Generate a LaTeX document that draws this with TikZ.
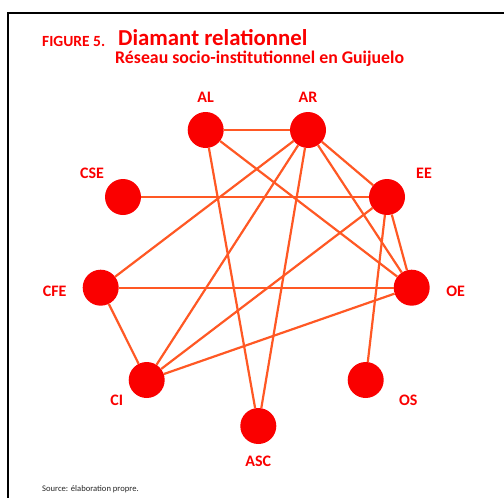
\documentclass[tikz,border=0pt]{standalone}
\usepackage{fontspec}
\setmainfont{Carlito}
\usetikzlibrary{positioning}
\definecolor{dotred}{RGB}{250,0,0}
\definecolor{linkorange}{RGB}{255,88,36}

\begin{document}
\begin{tikzpicture}[x=1pt, y=-1pt,
        actor/.style={circle, fill=dotred, minimum size=36pt, inner sep=0pt},
        lab/.style={text=dotred, font=\bfseries\fontsize{16}{18}\selectfont, inner sep=0pt},
        link/.style={draw=linkorange, line width=2.2pt}]
        \useasboundingbox (0,0) rectangle (504,498);
        \draw[line width=2pt] (8,498) -- (8,13) -- (504,13);

        % titles
        \node[anchor=base west, inner sep=0pt, text=dotred, font=\bfseries\fontsize{15.5}{17}\selectfont] (fig) at (42,46.5) {FIGURE 5.};
        \node[anchor=base west, inner sep=0pt, text=dotred, font=\bfseries\fontsize{22.8}{24}\selectfont] (title) at (118,45.5) {Diamant relationnel};
        \node[anchor=base west, inner sep=0pt, text=dotred, font=\bfseries\fontsize{17.8}{20}\selectfont] (subtitle) at (115,63) {Réseau socio-institutionnel en Guijuelo};

        % actors
        \node[actor] (al) at (205.7,130) {};
        \node[actor] (ar) at (308,130) {};
        \node[actor] (cse) at (123,197) {};
        \node[actor] (ee) at (387,197) {};
        \node[actor] (cfe) at (100.7,287.7) {};
        \node[actor] (oe) at (411.7,287.7) {};
        \node[actor] (ci) at (146.7,380) {};
        \node[actor] (os) at (365.7,380) {};
        \node[actor] (asc) at (258.3,426) {};

        \node[lab, above = 9pt of al] (tal) {AL};
        \node[lab, above = 9pt of ar] (tar) {AR};
        \node[lab] (tcse) at ([shift={(-31,-24)}]cse) {CSE};
        \node[lab] (tee) at ([shift={(37,-24)}]ee) {EE};
        \node[lab] (tcfe) at ([shift={(-46,4)}]cfe) {CFE};
        \node[lab] (toe) at ([shift={(44,4)}]oe) {OE};
        \node[lab] (tci) at ([shift={(-30,20)}]ci) {CI};
        \node[lab] (tos) at ([shift={(42.6,20)}]os) {OS};
        \node[lab, below = 12pt of asc] (tasc) {ASC};

        \foreach \a/\b in {al/ar, al/asc, al/oe, ar/cfe, ar/ci, ar/asc, ar/ee, ar/oe,
                cse/ee, ee/ci, ee/oe, ee/os, cfe/oe, cfe/ci, ci/oe}
            \draw[link] (\a) -- (\b);

        \node[anchor=base west, inner sep=0pt, font=\fontsize{8.6}{10}\selectfont, text=black!85] (src) at (42,491) {Source: élaboration propre.};
\end{tikzpicture}
\end{document}
